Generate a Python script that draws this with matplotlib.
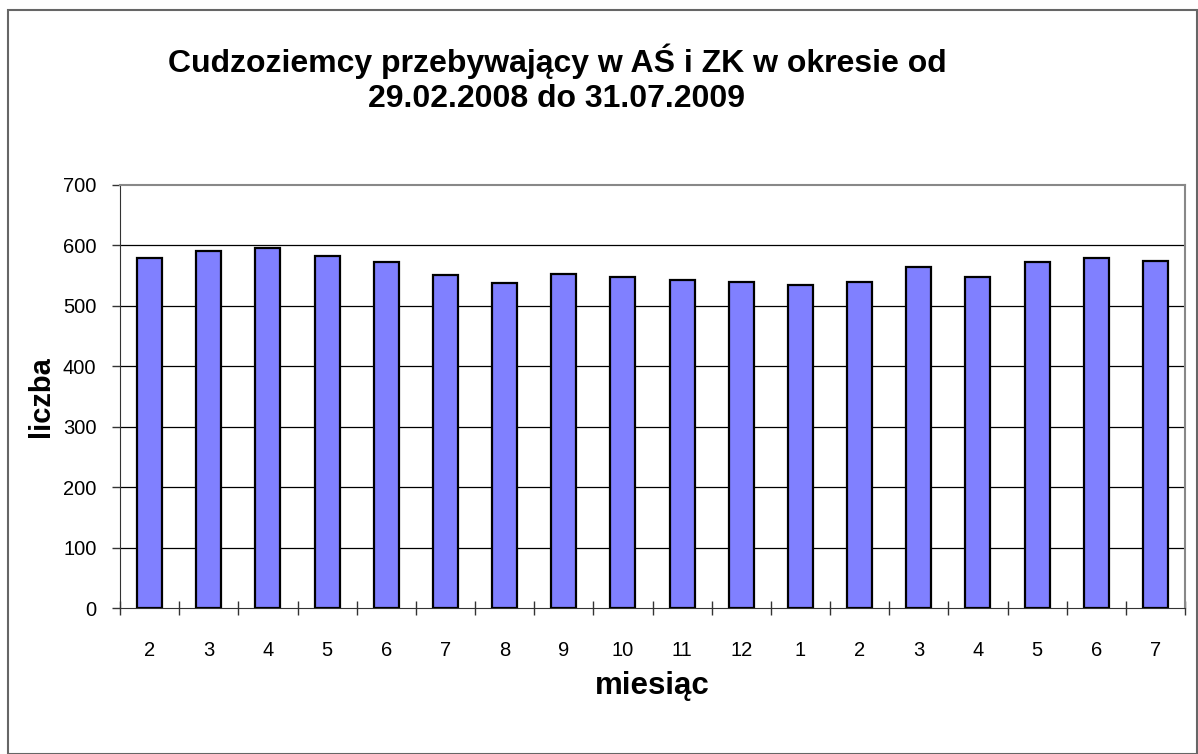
import matplotlib
matplotlib.use("Agg")
from matplotlib import pyplot as plt
from matplotlib.patches import Rectangle
import numpy as np

# dane z wykresu
miesiace = ["2", "3", "4", "5", "6", "7", "8", "9", "10", "11", "12",
            "1", "2", "3", "4", "5", "6", "7"]
liczba = [580, 591, 596, 583, 573, 551, 537, 552, 548, 542, 540,
          534, 540, 565, 548, 573, 580, 575]

plt.rcParams['font.family'] = ['Liberation Sans', 'DejaVu Sans']

W, H = 1198, 754
fig = plt.figure(figsize=(W / 100, H / 100), dpi=100)
ax = fig.add_axes([120 / W, 1 - 608 / H, (1185 - 120) / W, (608 - 185) / H])

x = np.arange(len(liczba))
ax.bar(x, liczba, width=0.42, color="#8080FF", edgecolor="black", linewidth=1.6, zorder=3)

ax.set_xlim(-0.5, len(liczba) - 0.5)
ax.set_ylim(0, 700)
ax.set_yticks(range(0, 701, 100))
ax.set_xticks(x)
ax.set_xticklabels(miesiace)
ax.set_xticks(np.arange(-0.5, len(liczba), 1), minor=True)

ax.tick_params(axis="x", which="major", length=0, pad=24, labelsize=14.5)
ax.tick_params(axis="x", which="minor", direction="inout", length=10, width=1, color="#333333")
ax.tick_params(axis="y", direction="out", length=6, width=1, pad=11, labelsize=14.5, color="#333333")

for v in range(100, 700, 100):
    ax.axhline(v, color="black", linewidth=0.9, zorder=1)

ax.spines["top"].set_color("#888888")
ax.spines["right"].set_color("#888888")
ax.spines["top"].set_linewidth(1.5)
ax.spines["right"].set_linewidth(1.5)
ax.spines["left"].set_color("#333333")
ax.spines["bottom"].set_color("#333333")

ax.set_xlabel("miesiąc", fontsize=22.5, fontweight="bold", labelpad=8)
ax.set_ylabel("liczba", fontsize=21, fontweight="bold", labelpad=6)

fig.text(557 / W, 1 - 79 / H, "Cudzoziemcy przebywający w AŚ i ZK w okresie od\n29.02.2008 do 31.07.2009",
         ha="center", va="center", fontsize=23, fontweight="bold", linespacing=1.2)

# ramka wokół wykresu
fig.patches.append(Rectangle((8 / W, 0), (W - 9) / W, 1 - 10 / H, transform=fig.transFigure,
                             fill=False, edgecolor="#666666", linewidth=1.5))

fig.savefig("out.png", dpi=100)
